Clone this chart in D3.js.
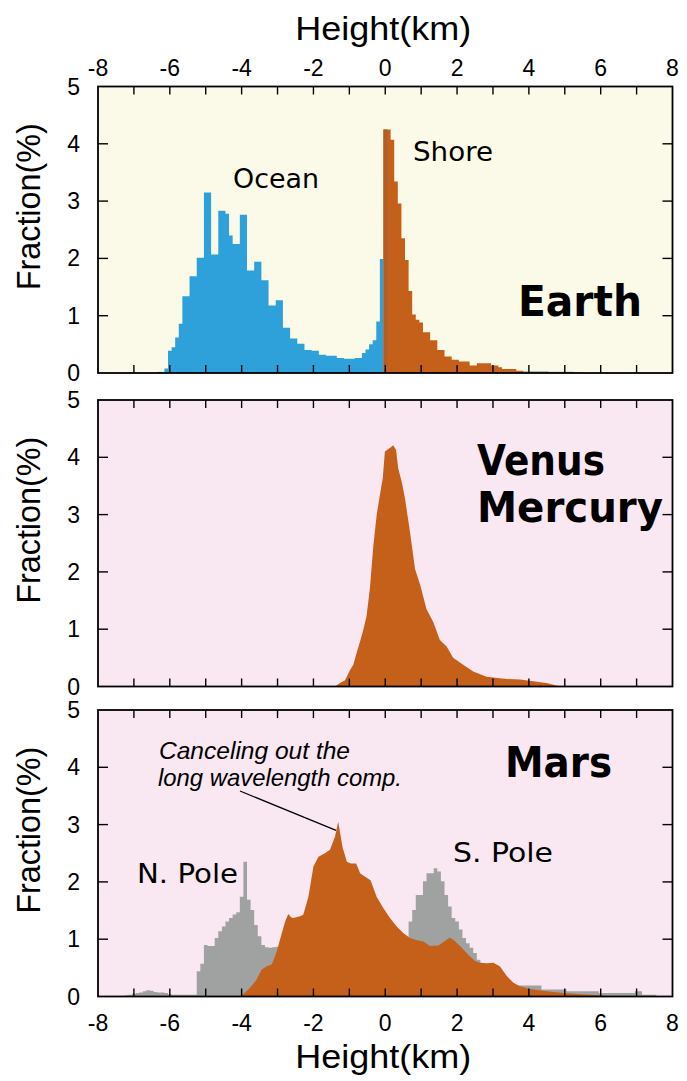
<!DOCTYPE html>
<html>
<head>
<meta charset="utf-8">
<script src="https://cdn.jsdelivr.net/npm/d3@7"></script>
<style>
  html, body { margin: 0; padding: 0; background: #ffffff; }
  svg { display: block; }
</style>
</head>
<body>
<svg id="chart" width="687" height="1081"></svg>
<script>
// ---------- data ----------
const xTickLabels = [-8, -6, -4, -2, 0, 2, 4, 6, 8];
const xMinorTicks = [-7, -6, -5, -4, -3, -2, -1, 0, 1, 2, 3, 4, 5, 6, 7];
const yTickLabels = [0, 1, 2, 3, 4, 5];
const binWidth = 0.1; // km

// Earth: ocean floor histogram (bin centres from -6.1 km)
const earthOceanStart = -6.1;
const earthOcean = [
  0.08, 0.39, 0.45, 0.62, 0.86, 1.34, 1.34, 1.69, 1.69, 2.01,
  2.01, 3.15, 3.15, 2.07, 2.07, 2.83, 2.83, 2.78, 2.40, 2.25,
  2.25, 2.76, 2.76, 1.79, 1.79, 1.94, 1.94, 1.62, 1.62, 1.18,
  1.18, 1.27, 1.27, 0.79, 0.79, 0.60, 0.60, 0.51, 0.51, 0.40,
  0.40, 0.39, 0.39, 0.32, 0.32, 0.30, 0.30, 0.30, 0.26, 0.26,
  0.25, 0.25, 0.25, 0.26, 0.26, 0.35, 0.41, 0.50, 0.57, 0.90,
  1.99
];
// Earth: land histogram (bin centres from 0.0 km)
const earthLandStart = 0.0;
const earthLand = [
  4.25, 4.25, 4.07, 3.34, 2.96, 2.35, 1.97, 1.43, 1.02, 0.93,
  0.88, 0.71, 0.71, 0.57, 0.57, 0.40, 0.40, 0.29, 0.29, 0.23,
  0.23, 0.20, 0.20, 0.20, 0.13, 0.13, 0.17, 0.17, 0.17, 0.17,
  0.13, 0.13, 0.10, 0.07, 0.07, 0.07, 0.07, 0.04, 0.04
];
// Earth: remaining tails
const earthTailLowStart = -6.3;
const earthTailLow = [0.02, 0.02];
const earthTailHighStart = 3.9;
const earthTailHigh = [0.03, 0.03, 0.03, 0.03, 0.03, 0.03, 0.03, 0.02, 0.02, 0.02,
                       0.02, 0.02, 0.02, 0.02, 0.01, 0.01, 0.01];

// Venus / Mercury: fine-binned height distribution
const venusHeights = [
  -1.40, -1.26, -1.12, -0.98, -0.89, -0.80, -0.70, -0.61, -0.52, -0.43,
  -0.33, -0.24, -0.15, -0.07, -0.01, 0.08, 0.15, 0.22, 0.30, 0.36,
  0.46, 0.55, 0.69, 0.83, 0.97, 1.15, 1.34, 1.52, 1.71, 1.89,
  2.17, 2.45, 2.82, 3.38, 3.75, 4.12, 4.49, 4.82, 4.90
];
const venusFractions = [
  0.00, 0.06, 0.11, 0.29, 0.38, 0.58, 0.79, 0.99, 1.23, 1.70,
  2.46, 2.99, 3.34, 3.63, 4.10, 4.14, 4.17, 4.21, 4.13, 3.81,
  3.57, 3.28, 2.69, 2.05, 1.78, 1.35, 1.12, 0.81, 0.70, 0.50,
  0.38, 0.26, 0.17, 0.13, 0.12, 0.09, 0.06, 0.01, 0.00
];

// Mars: raw histogram (bin centres from -7.2 km), N. and S. polar peaks
const marsRawStart = -7.2;
const marsRaw = [
  0.02, 0.03, 0.05, 0.06, 0.07, 0.09, 0.11, 0.10, 0.08, 0.07,
  0.07, 0.06, 0.04, 0.03, 0.03, 0.03, 0.03, 0.03, 0.03, 0.03,
  0.44, 0.57, 0.90, 0.88, 0.88, 1.02, 1.14, 1.22, 1.31, 1.37,
  1.43, 1.47, 1.74, 2.35, 1.69, 1.51, 1.25, 1.05, 0.90, 0.86,
  0.85, 0.86, 0.87, 0.88, 0.88, 0.89, 0.90, 0.90, 0.91, 0.92,
  0.93, 0.93, 0.94, 0.95, 0.95, 0.96, 0.96, 0.97, 0.97, 0.98,
  0.98, 0.98, 0.99, 0.99, 0.99, 1.00, 1.00, 1.00, 1.00, 1.00,
  1.00, 1.00, 1.00, 1.00, 0.99, 0.99, 0.98, 0.98, 1.02, 1.31,
  1.51, 1.77, 1.77, 2.01, 2.15, 2.15, 2.24, 2.18, 2.01, 1.77,
  1.57, 1.37, 1.31, 1.17, 1.02, 0.93, 0.85, 0.76, 0.64, 0.56,
  0.50, 0.45, 0.40, 0.35, 0.30, 0.26, 0.23, 0.21, 0.20, 0.19,
  0.19, 0.19, 0.19, 0.19, 0.19, 0.19, 0.12, 0.12, 0.12, 0.12,
  0.12, 0.12, 0.12, 0.09, 0.09, 0.09, 0.09, 0.09, 0.09, 0.09,
  0.09, 0.09, 0.06, 0.06, 0.06, 0.06, 0.06, 0.06, 0.06, 0.06,
  0.06, 0.06, 0.09, 0.09, 0.03, 0.03, 0.03, 0.03
];
// Mars: long-wavelength component removed
const marsFilteredHeights = [
  -4.06, -3.92, -3.77, -3.60, -3.44, -3.30, -3.16, -3.02, -2.88, -2.78,
  -2.70, -2.62, -2.56, -2.37, -2.28, -2.14, -2.00, -1.86, -1.68, -1.54,
  -1.40, -1.31, -1.19, -1.07, -0.96, -0.81, -0.70, -0.56, -0.41, -0.24,
  -0.05, 0.13, 0.32, 0.50, 0.69, 0.88, 1.06, 1.25, 1.48, 1.66,
  1.80, 1.94, 2.13, 2.31, 2.50, 2.64, 2.83, 3.01, 3.19, 3.38,
  3.57, 3.75, 4.03, 4.50, 4.96, 5.42, 5.98, 6.26
];
const marsFilteredFractions = [
  0.00, 0.06, 0.15, 0.28, 0.47, 0.53, 0.56, 0.79, 1.11, 1.32,
  1.44, 1.38, 1.37, 1.40, 1.43, 1.74, 2.27, 2.44, 2.50, 2.56,
  2.79, 3.05, 2.61, 2.35, 2.32, 2.32, 2.15, 2.09, 2.03, 1.74,
  1.54, 1.37, 1.22, 1.11, 1.02, 0.98, 0.96, 0.88, 0.89, 0.97,
  1.03, 0.97, 0.85, 0.73, 0.62, 0.59, 0.58, 0.59, 0.53, 0.36,
  0.24, 0.18, 0.13, 0.09, 0.06, 0.04, 0.02, 0.00
];

// ---------- styling ----------
const COLORS = {
  ocean: "#2ea0da",
  land: "#c4601a",
  shoreBin: "#b25d24",
  raw: "#a0a2a1",
  earthBg: "#fbf9e8",
  pinkBg: "#f9e7f2"
};
const axisFont = "'Liberation Sans', Arial, Helvetica, sans-serif";
const labelFont = "'Comic Sans MS', 'DejaVu Sans', 'Noto Sans', sans-serif";

const svg = d3.select("#chart");
const W = 687, H = 1081;
svg.append("rect").attr("width", W).attr("height", H).attr("fill", "#ffffff");

const plotLeft = 98, plotRight = 672.5, plotH = 286.5;
const panelTops = [86.5, 400, 710];

const x = d3.scaleLinear().domain([-8, 8]).range([plotLeft, plotRight]);

// turn a binned histogram into step points
function binsToSteps(start, values) {
  const pts = values.map((v, i) => [start + i * binWidth - binWidth / 2, v]);
  pts.push([start + values.length * binWidth - binWidth / 2, values[values.length - 1]]);
  return pts;
}

function makePanel(top, bg) {
  const y = d3.scaleLinear().domain([0, 5]).range([top + plotH, top]);
  const g = svg.append("g");
  g.append("rect")
    .attr("x", plotLeft).attr("y", top)
    .attr("width", plotRight - plotLeft).attr("height", plotH)
    .attr("fill", bg);
  const clipId = "clip" + Math.round(top);
  svg.append("clipPath").attr("id", clipId)
    .append("rect").attr("x", plotLeft).attr("y", top)
    .attr("width", plotRight - plotLeft).attr("height", plotH);
  const data = g.append("g").attr("clip-path", `url(#${clipId})`);
  return { y, g, data, top };
}

function stepArea(p, start, values, color) {
  const area = d3.area()
    .x(d => x(d[0])).y0(p.y(0)).y1(d => p.y(d[1]))
    .curve(d3.curveStepAfter);
  p.data.append("path").datum(binsToSteps(start, values))
    .attr("d", area).attr("fill", color);
}

function lineArea(p, xs, ys, color) {
  const area = d3.area()
    .x(d => x(d[0])).y0(p.y(0)).y1(d => p.y(d[1]))
    .curve(d3.curveLinear);
  p.data.append("path").datum(xs.map((v, i) => [v, ys[i]]))
    .attr("d", area).attr("fill", color);
}

function frame(p) {
  const t = p.g.append("g").attr("stroke", "#000").attr("stroke-width", 1.4);
  const yb = p.y(0), yt = p.y(5);
  xMinorTicks.forEach(v => {
    t.append("line").attr("x1", x(v)).attr("x2", x(v)).attr("y1", yt).attr("y2", yt + 8);
    t.append("line").attr("x1", x(v)).attr("x2", x(v)).attr("y1", yb).attr("y2", yb - 8);
  });
  yTickLabels.slice(1, -1).forEach(v => {
    t.append("line").attr("x1", plotLeft).attr("x2", plotLeft + 10).attr("y1", p.y(v)).attr("y2", p.y(v));
    t.append("line").attr("x1", plotRight).attr("x2", plotRight - 10).attr("y1", p.y(v)).attr("y2", p.y(v));
  });
  p.g.append("rect")
    .attr("x", plotLeft).attr("y", p.top)
    .attr("width", plotRight - plotLeft).attr("height", plotH)
    .attr("fill", "none").attr("stroke", "#000").attr("stroke-width", 1.8);

  // y tick labels
  p.g.append("g").selectAll("text").data(yTickLabels).join("text")
    .attr("x", 80).attr("y", d => p.y(d) + 8)
    .attr("text-anchor", "end")
    .attr("font-family", axisFont).attr("font-size", 23)
    .text(d => d);
  // y title
  const cy = p.top + plotH / 2 - 23;
  p.g.append("text")
    .attr("transform", `translate(40,${cy}) rotate(-90)`)
    .attr("text-anchor", "middle")
    .attr("font-family", axisFont).attr("font-size", 32.5)
    .attr("textLength", 167).attr("lengthAdjust", "spacingAndGlyphs")
    .text("Fraction(%)");
}

function label(text, x0, x1, baseline, size, weight, family, italic) {
  const t = svg.append("text")
    .attr("x", x0).attr("y", baseline)
    .attr("font-family", family || labelFont)
    .attr("font-size", size)
    .attr("font-weight", weight || "normal")
    .attr("textLength", x1 - x0).attr("lengthAdjust", "spacingAndGlyphs")
    .text(text);
  if (italic) t.attr("font-style", "italic");
  return t;
}

// ---------- Earth ----------
const earth = makePanel(panelTops[0], COLORS.earthBg);
stepArea(earth, earthTailLowStart, earthTailLow, COLORS.raw);
stepArea(earth, earthTailHighStart, earthTailHigh, COLORS.raw);
stepArea(earth, earthOceanStart, earthOcean, COLORS.ocean);
stepArea(earth, earthLandStart, earthLand, COLORS.land);
// the bin straddling sea level
earth.data.append("rect")
  .attr("x", x(earthLandStart - binWidth / 2))
  .attr("width", x(earthLandStart + binWidth / 2) - x(earthLandStart - binWidth / 2))
  .attr("y", earth.y(earthLand[0]))
  .attr("height", earth.y(0) - earth.y(earthLand[0]))
  .attr("fill", COLORS.shoreBin);
frame(earth);

// top axis
svg.append("g").selectAll("text").data(xTickLabels).join("text")
  .attr("x", d => x(d)).attr("y", 76)
  .attr("text-anchor", "middle")
  .attr("font-family", axisFont).attr("font-size", 23)
  .text(d => d);
svg.append("text")
  .attr("x", x(0) - 2).attr("y", 40)
  .attr("text-anchor", "middle")
  .attr("font-family", axisFont).attr("font-size", 33)
  .attr("textLength", 176).attr("lengthAdjust", "spacingAndGlyphs")
  .text("Height(km)");

label("Ocean", 233, 319, 188, 26);
label("Shore", 413, 493, 161, 26);
label("Earth", 518, 642, 316, 43, "bold");

// ---------- Venus / Mercury ----------
const venus = makePanel(panelTops[1], COLORS.pinkBg);
lineArea(venus, venusHeights, venusFractions, COLORS.land);
frame(venus);
label("Venus", 477, 605, 475, 43, "bold");
label("Mercury", 477, 663, 522, 43, "bold");

// ---------- Mars ----------
const mars = makePanel(panelTops[2], COLORS.pinkBg);
stepArea(mars, marsRawStart, marsRaw, COLORS.raw);
lineArea(mars, marsFilteredHeights, marsFilteredFractions, COLORS.land);
frame(mars);

svg.append("g").selectAll("text").data(xTickLabels).join("text")
  .attr("x", d => x(d)).attr("y", 1031)
  .attr("text-anchor", "middle")
  .attr("font-family", axisFont).attr("font-size", 23)
  .text(d => d);
svg.append("text")
  .attr("x", x(0) - 2).attr("y", 1068)
  .attr("text-anchor", "middle")
  .attr("font-family", axisFont).attr("font-size", 33)
  .attr("textLength", 176).attr("lengthAdjust", "spacingAndGlyphs")
  .text("Height(km)");

label("Mars", 505, 612, 777, 43, "bold");
label("N. Pole", 137, 238, 883, 26);
label("S. Pole", 453, 553, 862, 26);
label("Canceling out the", 159, 350, 759, 24, "normal", axisFont, true);
label("long wavelength comp.", 158, 402, 786, 24, "normal", axisFont, true);

// leader from the note to the filtered peak
svg.append("line")
  .attr("x1", 240).attr("y1", 791)
  .attr("x2", x(-1.37)).attr("y2", mars.y(2.9))
  .attr("stroke", "#000").attr("stroke-width", 1.2);
</script>
</body>
</html>
